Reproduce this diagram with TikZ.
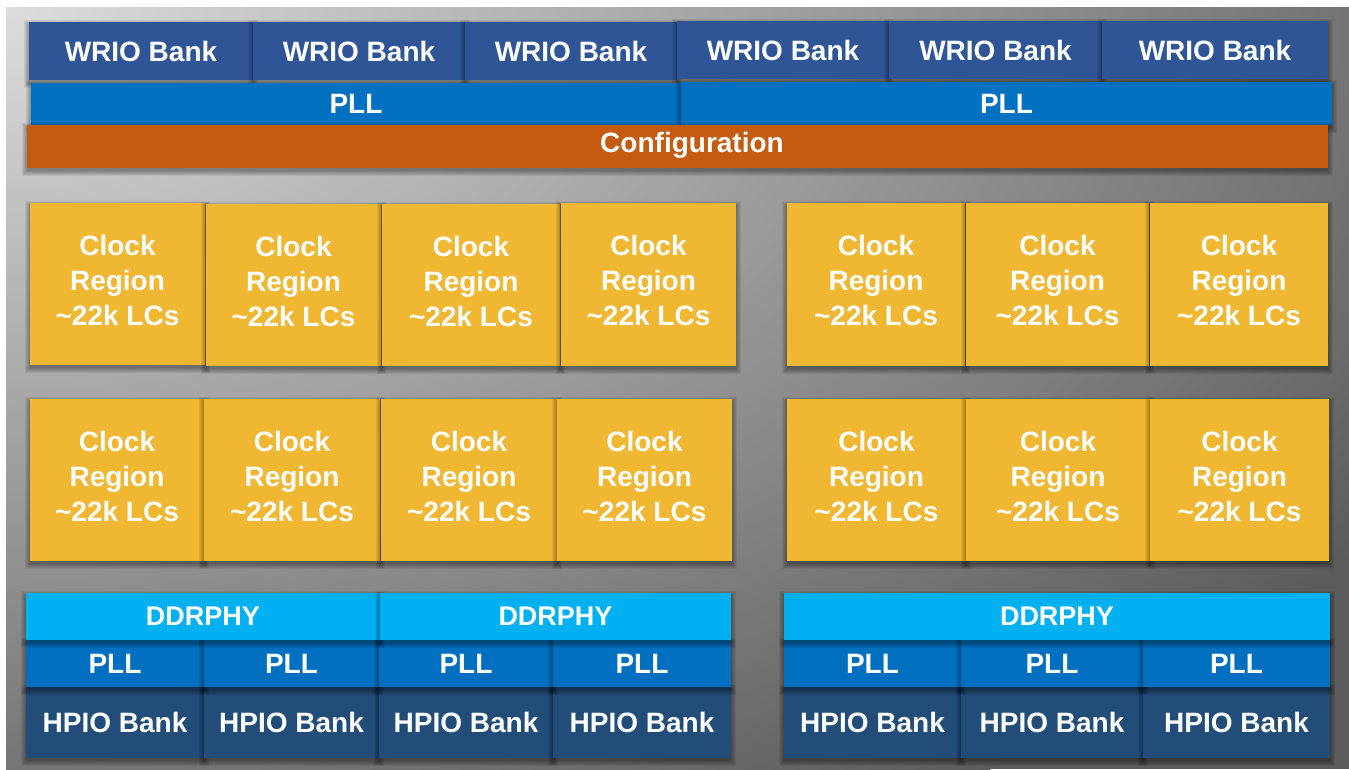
\documentclass[tikz,border=0pt]{standalone}
\usepackage{fontspec}
\setmainfont{Liberation Sans}
\definecolor{cwrio}{HTML}{2F5597}
\definecolor{cpll}{HTML}{0070C0}
\definecolor{cconf}{HTML}{C55A11}
\definecolor{cclk}{HTML}{F0B732}
\definecolor{cddr}{HTML}{00B0F0}
\definecolor{cpllb}{HTML}{006FBF}
\definecolor{chpio}{HTML}{224D78}
\definecolor{bglight}{HTML}{DCDCDC}
\definecolor{bgdark}{HTML}{5C5C5C}
\newcommand\blk[7]{%
  \foreach \k in {0,1,...,5}{\fill[shadowlayer] ({#2-\k},{#3+3-\k}) rectangle ({#4+\k},{#5+3+\k});}%
  \node[#6, minimum width={#4-#2}, minimum height={#5-#3}] (#1) at ({(#2+#4)/2},{(#3+#5)/2}) {#7};}
\tikzset{
  shadowlayer/.style={black, opacity=0.065},
  box/.style={inner sep=0pt, outer sep=0pt, text=white, font=\bfseries\fontsize{28}{35}\selectfont, align=center},
  wrio/.style={box, fill=cwrio},
  pll/.style={box, fill=cpll},
  conf/.style={box, fill=cconf},
  clk/.style={box, fill=cclk, text depth=8pt},
  ddr/.style={box, fill=cddr, font=\bfseries\fontsize{27}{32}\selectfont},
  pllb/.style={box, fill=cpllb},
  hpio/.style={box, fill=chpio},
}
\begin{document}
\begin{tikzpicture}[x=1pt,y=-1pt]
\useasboundingbox (0,0) rectangle (1349,769);
\fill[white] (0,0) rectangle (1349,769);
\begin{scope}
  \clip (6,7) rectangle (1349,769);
  \fill[bgdark] (6,7) rectangle (1349,769);
  \shade[inner color=bglight, outer color=bgdark] (6,7) ellipse [x radius=1650, y radius=950];
\end{scope}
% WRIO banks
\blk{w1}{29}{22}{253}{80}{wrio}{WRIO Bank}
\blk{w2}{253}{22}{465}{80}{wrio}{WRIO Bank}
\blk{w3}{465}{22}{677}{80}{wrio}{WRIO Bank}
\blk{w4}{677}{21}{889}{79}{wrio}{WRIO Bank}
\blk{w5}{889}{21}{1102}{79}{wrio}{WRIO Bank}
\blk{w6}{1102}{21}{1328}{79}{wrio}{WRIO Bank}
% PLL top
\blk{p1}{31}{83}{681}{125}{pll}{PLL}
\blk{p2}{681}{82}{1332}{125}{pll}{PLL}
% Configuration
\blk{cf}{27}{125}{1328}{168}{conf}{}
\node[text=white, font=\bfseries\fontsize{28}{35}\selectfont] (cft) at (692,145) {Configuration};
% Clock regions row 1
\blk{a1}{30}{203}{205}{365}{clk}{Clock\\Region\\\textasciitilde22k LCs}
\blk{a2}{206}{204}{381}{366}{clk}{Clock\\Region\\\textasciitilde22k LCs}
\blk{a3}{382}{204}{560}{366}{clk}{Clock\\Region\\\textasciitilde22k LCs}
\blk{a4}{561}{203}{736}{366}{clk}{Clock\\Region\\\textasciitilde22k LCs}
\blk{a5}{787}{203}{965}{366}{clk}{Clock\\Region\\\textasciitilde22k LCs}
\blk{a6}{966}{203}{1149}{366}{clk}{Clock\\Region\\\textasciitilde22k LCs}
\blk{a7}{1150}{203}{1328}{366}{clk}{Clock\\Region\\\textasciitilde22k LCs}
% Clock regions row 2
\blk{b1}{30}{399}{204}{561}{clk}{Clock\\Region\\\textasciitilde22k LCs}
\blk{b2}{204}{399}{380}{561}{clk}{Clock\\Region\\\textasciitilde22k LCs}
\blk{b3}{381}{399}{557}{561}{clk}{Clock\\Region\\\textasciitilde22k LCs}
\blk{b4}{557}{399}{732}{561}{clk}{Clock\\Region\\\textasciitilde22k LCs}
\blk{b5}{787}{399}{966}{561}{clk}{Clock\\Region\\\textasciitilde22k LCs}
\blk{b6}{966}{399}{1150}{561}{clk}{Clock\\Region\\\textasciitilde22k LCs}
\blk{b7}{1150}{399}{1329}{561}{clk}{Clock\\Region\\\textasciitilde22k LCs}
% HPIO banks
\blk{h1}{26}{687}{204}{758}{hpio}{HPIO Bank}
\blk{h2}{204}{687}{379}{758}{hpio}{HPIO Bank}
\blk{h3}{379}{687}{553}{758}{hpio}{HPIO Bank}
\blk{h4}{553}{687}{731}{758}{hpio}{HPIO Bank}
\blk{h5}{784}{687}{961}{758}{hpio}{HPIO Bank}
\blk{h6}{961}{687}{1143}{758}{hpio}{HPIO Bank}
\blk{h7}{1143}{687}{1330}{758}{hpio}{HPIO Bank}
% PLL bottom
\blk{q1}{26}{640}{204}{687}{pllb}{PLL}
\blk{q2}{204}{640}{379}{687}{pllb}{PLL}
\blk{q3}{379}{640}{553}{687}{pllb}{PLL}
\blk{q4}{553}{640}{731}{687}{pllb}{PLL}
\blk{q5}{784}{640}{961}{687}{pllb}{PLL}
\blk{q6}{961}{640}{1143}{687}{pllb}{PLL}
\blk{q7}{1143}{640}{1330}{687}{pllb}{PLL}
% DDRPHY
\blk{d1}{26}{593}{380}{640}{ddr}{DDRPHY}
\blk{d2}{380}{593}{731}{640}{ddr}{DDRPHY}
\blk{d3}{784}{593}{1330}{640}{ddr}{DDRPHY}
\end{tikzpicture}
\end{document}
